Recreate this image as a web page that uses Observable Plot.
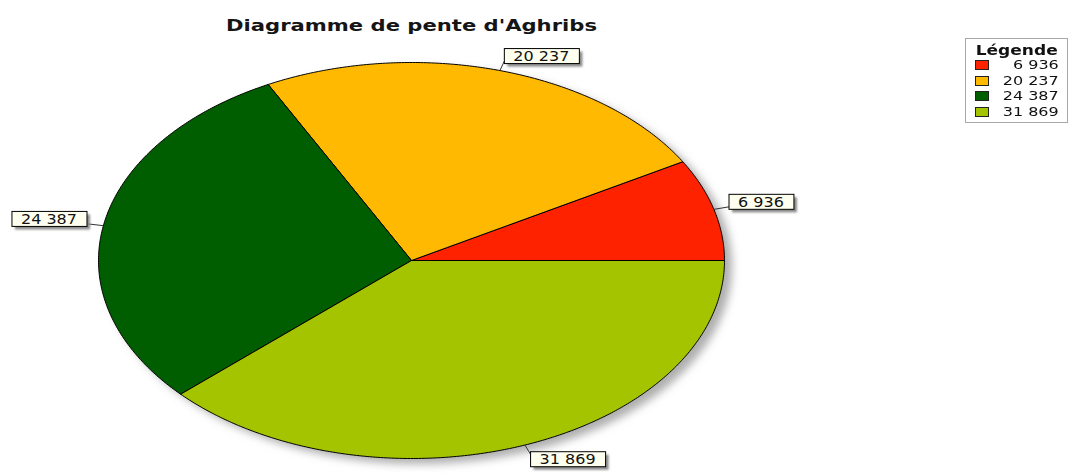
<!DOCTYPE html>
<html><head><meta charset="utf-8">
<script src="https://cdn.jsdelivr.net/npm/d3@7"></script>
<script src="https://cdn.jsdelivr.net/npm/@observablehq/plot@0.6"></script>
<style>
body{margin:0;background:#fff;}
#wrap{position:relative;width:1071px;height:473px;overflow:hidden;background:#fff;}
#legend{position:absolute;left:965px;top:38px;width:101px;height:83px;border:1px solid #a8a8a8;background:#fff;font-family:"DejaVu Sans",sans-serif;color:#111;}
#legend .lt{position:absolute;left:0;top:3px;width:100%;text-align:center;font-weight:bold;font-size:14px;line-height:16px;}
#legend .lt span{display:inline-block;transform-origin:50% 50%;}
#legend .row{position:absolute;left:0;width:100%;height:14px;}
#legend .sw{position:absolute;left:9px;top:2px;width:14px;height:10px;box-sizing:border-box;border:1px solid #222;}
#legend .num{position:absolute;right:8px;top:0;font-size:12.5px;line-height:14px;white-space:nowrap;transform-origin:100% 50%;}
</style></head><body><div id="wrap"></div>
<script>
const categories = ["6 936", "20 237", "24 387", "31 869"];
const values = [6936, 20237, 24387, 31869];
const colors = ["#ff2200", "#ffb900", "#005e00", "#a5c400"];
const title = "Diagramme de pente d'Aghribs";
const legendTitle = "Légende";

const total = d3.sum(values);
let acc = 0;
const slices = values.map((v, i) => {
  const a0 = acc / total * 2 * Math.PI; acc += v;
  const a1 = acc / total * 2 * Math.PI;
  return {cat: categories[i], value: v, a0, a1, mid: (a0 + a1) / 2};
});
const pts = [];
for (const s of slices) {
  pts.push({cat: s.cat, x: 0, y: 0});
  const n = Math.max(2, Math.ceil((s.a1 - s.a0) / (Math.PI / 360)));
  for (let k = 0; k <= n; k++) {
    const t = s.a0 + (s.a1 - s.a0) * k / n;
    pts.push({cat: s.cat, x: Math.cos(t), y: Math.sin(t)});
  }
  pts.push({cat: s.cat, x: 0, y: 0});
}
const ring = d3.range(0, 721).map(k => ({x: Math.cos(k * Math.PI / 360), y: Math.sin(k * Math.PI / 360)}));

const R = 1.05;
function labelMark(filter, textAnchor, lineAnchor, dx) {
  return Plot.text(slices.filter(filter), {
    x: d => R * Math.cos(d.mid), y: d => R * Math.sin(d.mid), text: "cat",
    textAnchor, lineAnchor, dx, fontSize: 14, fill: "#111", ariaDescription: "label"
  });
}

const chart = Plot.plot({
  width: 1071, height: 473,
  marginLeft: 98, marginRight: 347, marginTop: 62, marginBottom: 15,
  x: {domain: [-1, 1], axis: null},
  y: {domain: [-1, 1], axis: null},
  color: {domain: categories, range: colors},
  style: {fontFamily: "DejaVu Sans, sans-serif", background: "white", overflow: "visible"},
  marks: [
    Plot.area(ring, {x1: "x", y1: "y", x2: 0, y2: 0, fill: "#8c8c8c", fillOpacity: 0.7, dx: 8, dy: 6, ariaDescription: "shadow"}),
    Plot.line(pts, {x: "x", y: "y", z: "cat", fill: "cat", stroke: "#000", strokeWidth: 1, strokeLinejoin: "round"}),
    Plot.link(slices, {
      x1: d => Math.cos(d.mid), y1: d => Math.sin(d.mid),
      x2: d => R * Math.cos(d.mid), y2: d => R * Math.sin(d.mid),
      stroke: "#333", strokeWidth: 1
    }),
    labelMark(d => Math.cos(d.mid) >= 0 && Math.sin(d.mid) >= 0, "start", "bottom", 9),
    labelMark(d => Math.cos(d.mid) < 0 && Math.sin(d.mid) >= 0, "end", "bottom", -11),
    labelMark(d => Math.cos(d.mid) >= 0 && Math.sin(d.mid) < 0, "start", "top", 9),
    labelMark(d => Math.cos(d.mid) < 0 && Math.sin(d.mid) < 0, "end", "top", -11),
    Plot.text([title], {frameAnchor: "top", text: d => d, dy: -43, fontWeight: "bold", fontSize: 16.5, fill: "#151515", ariaDescription: "title"})
  ]
});
const wrap = document.getElementById("wrap");
wrap.appendChild(chart);

const canvas = document.createElement("canvas");
const ctx = canvas.getContext("2d");
function measure(text, font) { ctx.font = font; return ctx.measureText(text).width; }

const ns = "http://www.w3.org/2000/svg";
const svg = d3.select(chart);
const defs = svg.insert("defs", ":first-child");
defs.append("filter").attr("id", "blurA").attr("x", "-20%").attr("y", "-20%").attr("width", "140%").attr("height", "140%")
  .append("feGaussianBlur").attr("stdDeviation", 4.5);
defs.append("filter").attr("id", "blurB").attr("x", "-30%").attr("y", "-50%").attr("width", "160%").attr("height", "200%")
  .append("feGaussianBlur").attr("stdDeviation", 1.3);
svg.selectAll('g[aria-description="shadow"]').attr("filter", "url(#blurA)");

svg.selectAll('g[aria-description="title"] text')
  .attr("textLength", 371).attr("lengthAdjust", "spacingAndGlyphs");

const labelScale = 56 / measure("24 387", "14px 'DejaVu Sans'");
svg.selectAll('g[aria-description="label"] text').each(function() {
  const nat = this.getComputedTextLength();
  this.setAttribute("textLength", nat * labelScale);
  this.setAttribute("lengthAdjust", "spacingAndGlyphs");
  const bb = this.getBBox();
  const tr = this.getAttribute("transform");
  const g = this.parentNode;
  const x = bb.x - 9, w = bb.width + 19, y = bb.y + 0.5, h = bb.height - 1;
  const sh = document.createElementNS(ns, "rect");
  sh.setAttribute("x", x + 3); sh.setAttribute("y", y + 3);
  sh.setAttribute("width", w); sh.setAttribute("height", h);
  sh.setAttribute("fill", "#888"); sh.setAttribute("filter", "url(#blurB)");
  const rc = document.createElementNS(ns, "rect");
  rc.setAttribute("x", x); rc.setAttribute("y", y);
  rc.setAttribute("width", w); rc.setAttribute("height", h);
  rc.setAttribute("fill", "#fffff0"); rc.setAttribute("stroke", "#000"); rc.setAttribute("stroke-width", 1);
  if (tr) { sh.setAttribute("transform", tr); rc.setAttribute("transform", tr); }
  g.insertBefore(sh, this);
  g.insertBefore(rc, this);
});

// Legend
const legend = d3.select(wrap).append("div").attr("id", "legend");
legend.append("div").attr("class", "lt").append("span").text(legendTitle)
  .style("transform", `scaleX(${82 / measure(legendTitle, "bold 14px 'DejaVu Sans'")})`);
const numScale = 56 / measure("20 237", "12.5px 'DejaVu Sans'");
const rows = legend.selectAll(".row").data(categories).join("div").attr("class", "row")
  .style("top", (d, i) => (19 + i * 15.67) + "px");
rows.append("div").attr("class", "sw").style("background", (d, i) => colors[i]);
rows.append("div").attr("class", "num").text(d => d).style("transform", `scaleX(${numScale})`);
</script>
</body></html>
